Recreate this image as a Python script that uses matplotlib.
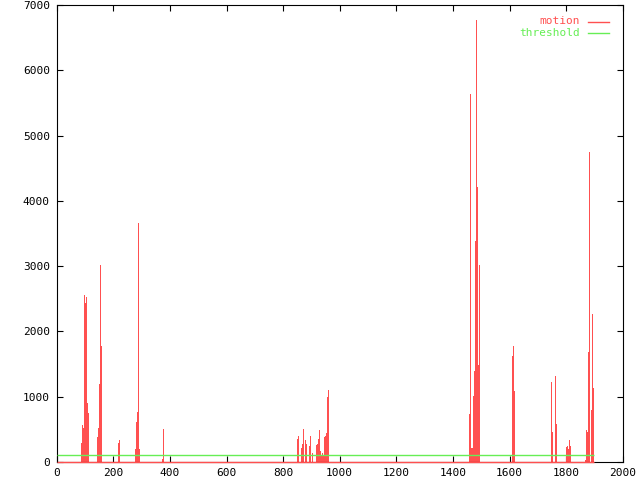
import matplotlib
matplotlib.use("Agg")
import matplotlib.pyplot as plt
from matplotlib.lines import Line2D

# ---- data (frame number, motion value) ----
frames = [88, 91, 95, 98, 102, 105, 109, 112,
          144, 148, 151, 155, 158,
          218, 221,
          278, 282, 286, 289, 293,
          374, 378,
          851, 854, 865, 869, 872, 879, 883, 893, 897, 904, 918, 922, 925, 929,
          932, 936, 939, 943, 946, 950, 953, 957, 961,
          1459, 1462, 1466, 1469, 1473, 1476, 1480, 1483, 1487, 1490, 1494,
          1611, 1615, 1618,
          1748, 1752, 1763, 1766,
          1802, 1805, 1809, 1812, 1816,
          1869, 1872, 1876, 1879, 1883, 1890, 1893, 1897]
motion = [296, 566, 515, 2556, 2439, 2525, 903, 750,
          383, 520, 1194, 3015, 1776,
          291, 337,
          199, 612, 765, 3660, 199,
          46, 505,
          357, 398, 214, 276, 505, 337, 276, 245, 398, 138, 260, 276, 352, 490,
          168, 102, 138, 102, 383, 398, 444, 995, 1102,
          735, 5633, 214, 214, 1010, 1393, 3383, 6765, 4209, 1485, 3015,
          1622, 1781, 1087,
          1224, 459, 1316, 582,
          230, 245, 199, 337, 245,
          31, 490, 459, 1684, 4745, 796, 2265, 1133]
frame_range = [0, 1900]
threshold = 100
series_labels = ["motion", "threshold"]
x_ticks = [0, 200, 400, 600, 800, 1000, 1200, 1400, 1600, 1800, 2000]
y_ticks = [0, 1000, 2000, 3000, 4000, 5000, 6000, 7000]

RED = "#ff5050"
GREEN = "#66ee55"
FONT = "DejaVu Sans Mono"
FS = 8

fig = plt.figure(figsize=(6.4, 4.8), dpi=100)
W, H = 640, 480
left, right, top, bottom = 56.7, 622.7, 5, 462
ax = fig.add_axes([left / W, 1 - bottom / H, (right - left) / W, (bottom - top) / H])

px_per_unit = (right - left) / (x_ticks[-1] - x_ticks[0])
bar_w = 1.0 / px_per_unit

ax.bar(frames, motion, width=bar_w, color=RED, linewidth=0, align="center",
       zorder=2, antialiased=False)
ax.plot(frame_range, [0, 0], color=RED, lw=1.0, zorder=5, clip_on=False,
        solid_capstyle="butt")
ax.plot(frame_range, [threshold, threshold], color=GREEN, lw=1.0, zorder=4,
        solid_capstyle="butt")

ax.set_xlim(x_ticks[0], x_ticks[-1])
ax.set_ylim(y_ticks[0], y_ticks[-1])
ax.set_xticks(x_ticks)
ax.set_yticks(y_ticks)
ax.set_xticklabels([str(t) for t in x_ticks], fontfamily=FONT, fontsize=FS)
ax.set_yticklabels([str(t) for t in y_ticks], fontfamily=FONT, fontsize=FS)
ax.tick_params(direction="in", length=4.5, width=0.8, top=True, right=True,
               color="black", pad=4)
ax.tick_params(axis="y", pad=5)
for s in ax.spines.values():
    s.set_linewidth(0.8)
    s.set_color("black")

# legend (gnuplot style: right-aligned text followed by a line sample)
for i, (lab, col) in enumerate(zip(series_labels, [RED, GREEN])):
    ypx = 21.5 + i * 11.5
    fig.text(580 / W, 1 - ypx / H, lab, ha="right", va="center",
             fontfamily=FONT, fontsize=FS, color=col)
    fig.add_artist(Line2D([588 / W, 609 / W], [1 - ypx / H, 1 - ypx / H],
                          color=col, lw=1.0, transform=fig.transFigure))

fig.savefig("out.png", dpi=100)
